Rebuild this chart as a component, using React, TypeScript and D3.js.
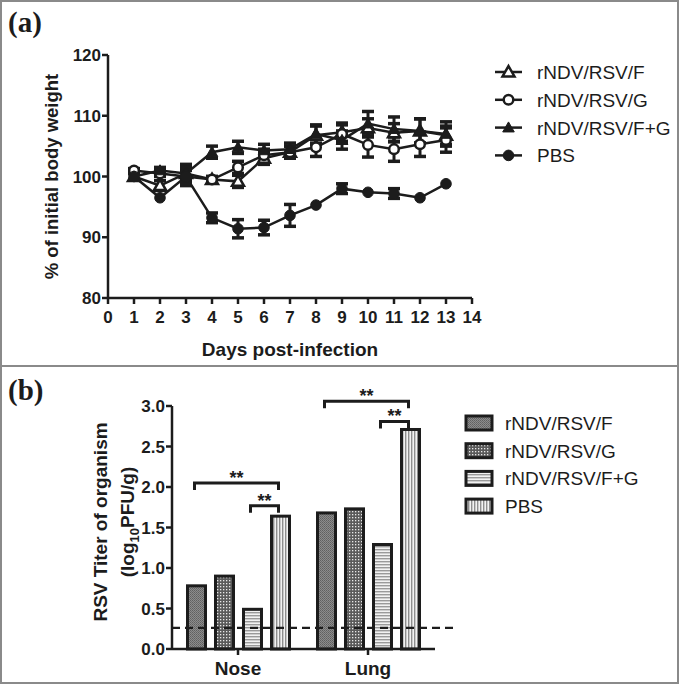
import { useEffect, useRef } from 'react';
import * as d3 from 'd3';

// panel (a): body weight
const days = [1, 2, 3, 4, 5, 6, 7, 8, 9, 10, 11, 12, 13];
const groups = ['rNDV/RSV/F', 'rNDV/RSV/G', 'rNDV/RSV/F+G', 'PBS'];
const weightF = [100, 98.5, 100.5, 99.5, 99.2, 103, 104, 106.8, 107.3, 108, 107.2, 107.5, 106.8];
const errF = [0.5, 0.8, 1.5, 0.5, 1, 1, 1, 1.5, 1.5, 1.5, 1.5, 2, 1.5];
const weightG = [101, 100.5, 100, 99.5, 101.5, 103.5, 104, 104.8, 107, 105.2, 104.5, 105.3, 106];
const errG = [0.3, 0.5, 1.5, 0.5, 1, 1, 1, 1.5, 1.5, 2, 2, 2, 2];
const weightFG = [100, 101, 100.5, 104, 104.8, 104.3, 104.5, 107, 106, 108.7, 107.8, 107.5, 107];
const errFG = [0.5, 0.5, 1, 1, 1, 1, 1, 1.5, 1.5, 2, 2, 2, 2];
const weightPBS = [100, 96.5, 100, 93.2, 91.4, 91.6, 93.6, 95.3, 98, 97.4, 97.2, 96.5, 98.8];
const errPBS = [0, 0, 1, 0.8, 1.5, 1.2, 1.8, 0, 0.8, 0, 0.8, 0, 0];
const weightTicks = [80, 90, 100, 110, 120];
const dayTicks = [0, 1, 2, 3, 4, 5, 6, 7, 8, 9, 10, 11, 12, 13, 14];

// panel (b): RSV titer
const organs = ['Nose', 'Lung'];
const titerNose = [0.78, 0.9, 0.49, 1.64];
const titerLung = [1.68, 1.73, 1.29, 2.71];
const detectionLimit = 0.26;
const titerTicks = [0, 0.5, 1, 1.5, 2, 2.5, 3];
const brackets = [
  { organ: 'Nose', from: 0, to: 3, level: 2.05 },
  { organ: 'Nose', from: 2, to: 3, level: 1.77 },
  { organ: 'Lung', from: 0, to: 3, level: 3.06 },
  { organ: 'Lung', from: 2, to: 3, level: 2.81 },
];

const FONT = "'Liberation Sans', Arial, sans-serif";
const INK = '#1c1c1c';

export default function App() {
  const svgRef = useRef<SVGSVGElement>(null);

  useEffect(() => {
    if (!svgRef.current) return;
    const svg = d3.select(svgRef.current);
    svg.selectAll('*').remove();

    const width = 680;
    const height = 685;

    // 패턴
    const defs = svg.append('defs');
    const pF = defs.append('pattern').attr('id', 'patF').attr('width', 2).attr('height', 2).attr('patternUnits', 'userSpaceOnUse');
    pF.append('rect').attr('width', 2).attr('height', 2).attr('fill', '#8c8c8c');
    pF.append('rect').attr('width', 1).attr('height', 1).attr('fill', '#606060');
    pF.append('rect').attr('x', 1).attr('y', 1).attr('width', 1).attr('height', 1).attr('fill', '#6c6c6c');

    const pG = defs.append('pattern').attr('id', 'patG').attr('width', 3).attr('height', 3).attr('patternUnits', 'userSpaceOnUse');
    pG.append('rect').attr('width', 3).attr('height', 3).attr('fill', '#5a5a5a');
    pG.append('rect').attr('x', 1).attr('y', 1).attr('width', 1.3).attr('height', 1.3).attr('fill', '#e8e8e8');

    const pFG = defs.append('pattern').attr('id', 'patFG').attr('width', 3).attr('height', 3).attr('patternUnits', 'userSpaceOnUse');
    pFG.append('rect').attr('width', 3).attr('height', 3).attr('fill', '#f2f2f2');
    pFG.append('rect').attr('width', 3).attr('height', 1.4).attr('fill', '#9a9a9a');

    const pP = defs.append('pattern').attr('id', 'patPBS').attr('width', 3).attr('height', 3).attr('patternUnits', 'userSpaceOnUse');
    pP.append('rect').attr('width', 3).attr('height', 3).attr('fill', '#f2f2f2');
    pP.append('rect').attr('width', 1.4).attr('height', 3).attr('fill', '#8e8e8e');

    const barFills = ['url(#patF)', 'url(#patG)', 'url(#patFG)', 'url(#patPBS)'];

    // 프레임
    svg.append('rect')
      .attr('x', 1).attr('y', 1).attr('width', width - 3).attr('height', height - 3)
      .attr('fill', '#fff').attr('stroke', '#8a8a8a').attr('stroke-width', 2);
    svg.append('line')
      .attr('x1', 1).attr('x2', width - 2).attr('y1', 366).attr('y2', 366)
      .attr('stroke', '#8a8a8a').attr('stroke-width', 2);

    svg.append('text').attr('x', 8).attr('y', 32)
      .style('font-family', "'Liberation Serif', 'Times New Roman', serif")
      .style('font-weight', 'bold').style('font-size', '29px').style('fill', INK).text('(a)');
    svg.append('text').attr('x', 8).attr('y', 400)
      .style('font-family', "'Liberation Serif', 'Times New Roman', serif")
      .style('font-weight', 'bold').style('font-size', '29px').style('fill', INK).text('(b)');

    // ---------- (a) ----------
    const xA = d3.scaleLinear().domain([0, 14]).range([108, 472]);
    const yA = d3.scaleLinear().domain([80, 120]).range([298, 55]);
    const gA = svg.append('g');

    gA.append('line').attr('x1', xA(0)).attr('x2', xA(0)).attr('y1', yA(120)).attr('y2', yA(80))
      .attr('stroke', INK).attr('stroke-width', 2.5);
    gA.append('line').attr('x1', xA(0)).attr('x2', xA(14)).attr('y1', yA(80)).attr('y2', yA(80))
      .attr('stroke', INK).attr('stroke-width', 2.5);

    weightTicks.forEach((t) => {
      gA.append('line').attr('x1', xA(0) - 6).attr('x2', xA(0)).attr('y1', yA(t)).attr('y2', yA(t))
        .attr('stroke', INK).attr('stroke-width', 2.5);
      gA.append('text').attr('x', xA(0) - 7).attr('y', yA(t) + 6)
        .attr('text-anchor', 'end')
        .style('font-family', FONT).style('font-weight', 'bold').style('font-size', '17px').style('fill', INK)
        .text(t);
    });
    dayTicks.forEach((t) => {
      gA.append('line').attr('x1', xA(t)).attr('x2', xA(t)).attr('y1', yA(80)).attr('y2', yA(80) + 6)
        .attr('stroke', INK).attr('stroke-width', 2.5);
      gA.append('text').attr('x', xA(t)).attr('y', 323)
        .attr('text-anchor', 'middle')
        .style('font-family', FONT).style('font-weight', 'bold').style('font-size', '17px').style('fill', INK)
        .text(t);
    });

    gA.append('text').attr('x', 290).attr('y', 356).attr('text-anchor', 'middle')
      .style('font-family', FONT).style('font-weight', 'bold').style('font-size', '19px').style('fill', INK)
      .text('Days post-infection');
    gA.append('text')
      .attr('transform', `translate(58, ${yA(100)}) rotate(-90)`)
      .attr('text-anchor', 'middle')
      .style('font-family', FONT).style('font-weight', 'bold').style('font-size', '18.5px').style('fill', INK)
      .text('% of initial body weight');

    const seriesA = [
      { name: groups[0], values: weightF, err: errF, marker: 'triOpen' },
      { name: groups[1], values: weightG, err: errG, marker: 'circOpen' },
      { name: groups[2], values: weightFG, err: errFG, marker: 'triFill' },
      { name: groups[3], values: weightPBS, err: errPBS, marker: 'circFill' },
    ];

    const line = d3.line<number>().x((_, i) => xA(days[i])).y((d) => yA(d));

    const drawMarker = (sel: any, kind: string, cx: number, cy: number) => {
      if (kind === 'triOpen' || kind === 'triFill') {
        sel.append('path')
          .attr('d', d3.symbol(d3.symbolTriangle, kind === 'triOpen' ? 62 : 58)())
          .attr('transform', `translate(${cx},${cy + 1})`)
          .attr('fill', kind === 'triOpen' ? '#fff' : INK)
          .attr('stroke', INK).attr('stroke-width', kind === 'triOpen' ? 2.5 : 1);
      } else {
        sel.append('circle').attr('cx', cx).attr('cy', cy)
          .attr('r', kind === 'circOpen' ? 4.8 : 5.3)
          .attr('fill', kind === 'circOpen' ? '#fff' : INK)
          .attr('stroke', INK).attr('stroke-width', kind === 'circOpen' ? 2.5 : 1);
      }
    };

    seriesA.forEach((s) => {
      gA.append('path').datum(s.values).attr('d', line)
        .attr('fill', 'none').attr('stroke', INK).attr('stroke-width', 2.5);
    });
    seriesA.forEach((s) => {
      s.values.forEach((v, i) => {
        const e = s.err[i];
        if (e <= 0) return;
        const cx = xA(days[i]);
        gA.append('line').attr('x1', cx).attr('x2', cx).attr('y1', yA(v - e)).attr('y2', yA(v + e))
          .attr('stroke', INK).attr('stroke-width', 3);
        [v - e, v + e].forEach((c) => {
          gA.append('line').attr('x1', cx - 6).attr('x2', cx + 6).attr('y1', yA(c)).attr('y2', yA(c))
            .attr('stroke', INK).attr('stroke-width', 3.5);
        });
      });
    });
    seriesA.forEach((s) => {
      s.values.forEach((v, i) => drawMarker(gA, s.marker, xA(days[i]), yA(v)));
    });

    // 범례 (a)
    const legA = svg.append('g');
    seriesA.forEach((s, i) => {
      const ly = 72 + i * 27.8;
      legA.append('line').attr('x1', 495).attr('x2', 522).attr('y1', ly).attr('y2', ly)
        .attr('stroke', INK).attr('stroke-width', 2.5);
      drawMarker(legA, s.marker, 508.5, ly);
      legA.append('text').attr('x', 537).attr('y', ly + 7)
        .style('font-family', FONT).style('font-size', '19px').style('fill', INK)
        .text(s.name);
    });

    // ---------- (b) ----------
    const yB = d3.scaleLinear().domain([0, 3]).range([649, 406]);
    const xB = d3.scaleBand().domain(organs).range([173, 433]);
    const xSub = d3.scalePoint().domain(groups).range([23.5, 107.5]);
    const barW = 18;
    const gB = svg.append('g');
    const titers: Record<string, number[]> = { Nose: titerNose, Lung: titerLung };

    organs.forEach((o) => {
      titers[o].forEach((v, i) => {
        const cx = (xB(o) as number) + (xSub(groups[i]) as number);
        gB.append('rect')
          .attr('x', cx - barW / 2).attr('y', yB(v))
          .attr('width', barW).attr('height', yB(0) - yB(v))
          .attr('fill', barFills[i]).attr('stroke', INK).attr('stroke-width', 3);
      });
    });

    gB.append('line').attr('x1', 172).attr('x2', 172).attr('y1', yB(3)).attr('y2', yB(0))
      .attr('stroke', INK).attr('stroke-width', 2.5);
    gB.append('line').attr('x1', 172).attr('x2', 435).attr('y1', yB(0)).attr('y2', yB(0))
      .attr('stroke', INK).attr('stroke-width', 2.5);

    titerTicks.forEach((t) => {
      gB.append('line').attr('x1', 166).attr('x2', 172).attr('y1', yB(t)).attr('y2', yB(t))
        .attr('stroke', INK).attr('stroke-width', 2.5);
      gB.append('text').attr('x', 165).attr('y', yB(t) + 6).attr('text-anchor', 'end')
        .style('font-family', FONT).style('font-weight', 'bold').style('font-size', '17px').style('fill', INK)
        .text(d3.format('.1f')(t));
    });
    organs.forEach((o) => {
      const cx = (xB(o) as number) + xB.bandwidth() / 2;
      gB.append('line').attr('x1', cx).attr('x2', cx).attr('y1', yB(0)).attr('y2', yB(0) + 6)
        .attr('stroke', INK).attr('stroke-width', 2.5);
      gB.append('text').attr('x', cx).attr('y', 675).attr('text-anchor', 'middle')
        .style('font-family', FONT).style('font-weight', 'bold').style('font-size', '19px').style('fill', INK)
        .text(o);
    });

    gB.append('line').attr('x1', 172).attr('x2', 453)
      .attr('y1', yB(detectionLimit)).attr('y2', yB(detectionLimit))
      .attr('stroke', INK).attr('stroke-width', 2.2).attr('stroke-dasharray', '8 5');

    brackets.forEach((b) => {
      const x1 = (xB(b.organ) as number) + (xSub(groups[b.from]) as number) - 2;
      const x2 = (xB(b.organ) as number) + (xSub(groups[b.to]) as number) - 2;
      const y = yB(b.level);
      gB.append('path')
        .attr('d', `M${x1},${y + 7}V${y}H${x2}V${y + 7}`)
        .attr('fill', 'none').attr('stroke', INK).attr('stroke-width', 3);
      gB.append('text').attr('x', (x1 + x2) / 2).attr('y', y + 1).attr('text-anchor', 'middle')
        .style('font-family', FONT).style('font-weight', 'bold').style('font-size', '18px').style('fill', INK)
        .text('**');
    });

    const yTitle = gB.append('text')
      .attr('transform', `translate(107, 522) rotate(-90)`)
      .attr('text-anchor', 'middle')
      .style('font-family', FONT).style('font-weight', 'bold').style('font-size', '19px').style('fill', INK);
    yTitle.append('tspan').attr('x', 0).attr('y', 0).text('RSV Titer of organism');
    const l2 = yTitle.append('tspan').attr('x', 0).attr('y', 27);
    l2.append('tspan').text('(log');
    l2.append('tspan').attr('dy', 5).style('font-size', '13px').text('10');
    l2.append('tspan').attr('dy', -5).text('PFU/g)');

    // 범례 (b)
    const legB = svg.append('g');
    groups.forEach((name, i) => {
      const ly = 423 + i * 27.7;
      legB.append('rect').attr('x', 466).attr('y', ly - 7).attr('width', 26).attr('height', 14)
        .attr('fill', barFills[i]).attr('stroke', INK).attr('stroke-width', 3);
      legB.append('text').attr('x', 505).attr('y', ly + 7)
        .style('font-family', FONT).style('font-size', '19px').style('fill', INK)
        .text(name);
    });
  }, []);

  return (
    <>
      <style>{`body{margin:0}`}</style>
      <svg ref={svgRef} width={680} height={685} style={{ display: 'block' }}></svg>
    </>
  );
}
